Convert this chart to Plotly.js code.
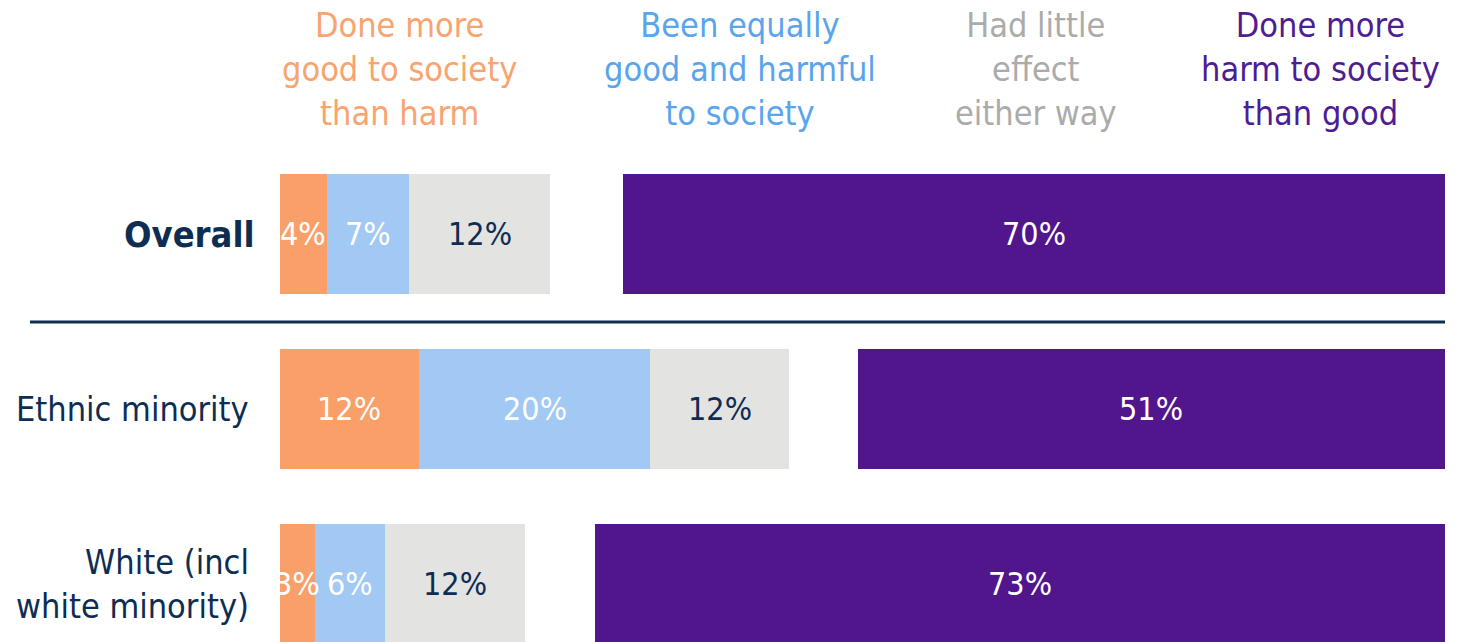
<!DOCTYPE html>
<html>
<head>
<meta charset="utf-8">
<script src="https://cdn.plot.ly/plotly-3.0.1.min.js"></script>
<style>html,body{margin:0;padding:0;background:#fff;}#chart{width:1468px;height:642px;}</style>
</head>
<body>
<div id="chart"></div>
<script>
// Categories (top to bottom)
const categories = ["Overall", "Ethnic minority", "White (incl white minority)"];
const categoryLabels = ["<b>Overall</b>", "Ethnic minority", "White (incl<br>white minority)"];

// Series headers
const seriesNames = [
  "Done more<br>good to society<br>than harm",
  "Been equally<br>good and harmful<br>to society",
  "Had little<br>effect<br>either way",
  "Done more<br>harm to society<br>than good"
];

// Values (% of respondents)
const doneMoreGood = [4.0, 11.9, 3.0];
const equallyGoodHarmful = [7.1, 19.9, 6.0];
const littleEffect = [12.1, 11.9, 12.0];
const doneMoreHarm = [70.6, 50.4, 73.0];

// Printed labels
const goodLabels = ["4%", "12%", "3%"];
const equalLabels = ["7%", "20%", "6%"];
const littleLabels = ["12%", "12%", "12%"];
const harmLabels = ["70%", "51%", "73%"];

const TOTAL = 100;

const FONT = "'Liberation Sans Narrow', 'DejaVu Sans Condensed', 'Roboto', sans-serif";
const NAVY = "#0E2D52";
const colors = ["#F9A06A", "#A2C9F3", "#E3E3E2", "#51158C"];
const headerColors = ["#F7A46F", "#5AA4EC", "#ABABAB", "#4E1C94"];

function barTrace(vals, color, name, base) {
  const t = {
    type: "bar",
    orientation: "h",
    y: categories,
    x: vals,
    name: name,
    marker: {color: color, line: {width: 0}},
    width: 0.686,
    hoverinfo: "skip"
  };
  if (base) t.base = base;
  return t;
}

const harmBase = doneMoreHarm.map(v => TOTAL - v);

const data = [
  barTrace(doneMoreGood, colors[0], "good"),
  barTrace(equallyGoodHarmful, colors[1], "equal"),
  barTrace(littleEffect, colors[2], "little"),
  barTrace(doneMoreHarm, colors[3], "harm", harmBase)
];

const annotations = [];

// value labels at segment midpoints derived from the data
categories.forEach((c, i) => {
  const g = doneMoreGood[i], e = equallyGoodHarmful[i], l = littleEffect[i], h = doneMoreHarm[i];
  const xs = [g / 2, g + e / 2, g + e + l / 2, TOTAL - h / 2];
  const ts = [goodLabels[i], equalLabels[i], littleLabels[i], harmLabels[i]];
  const cs = ["#ffffff", "#ffffff", NAVY, "#ffffff"];
  xs.forEach((x, k) => {
    annotations.push({
      xref: "x", yref: "y", x: x, y: c,
      xanchor: "center", yanchor: "middle",
      text: ts[k], showarrow: false,
      font: {family: FONT, size: 32, color: cs[k]}
    });
  });
});

const headerX = [0.103, 0.395, 0.649, 0.893];
seriesNames.forEach((s, i) => {
  annotations.push({
    xref: "paper", yref: "paper",
    x: headerX[i], y: (642 - 69) / 492,
    xanchor: "center", yanchor: "middle",
    text: s, showarrow: false, align: "center",
    font: {family: FONT, size: 34, color: headerColors[i]}
  });
});
const catLabelX = [(257 - 280) / 1165, (251 - 280) / 1165, (251 - 280) / 1165];
categoryLabels.forEach((c, i) => {
  annotations.push({
    xref: "paper", yref: "y",
    x: catLabelX[i], y: categories[i],
    xanchor: "right", yanchor: "middle",
    text: c, showarrow: false, align: "right",
    font: {family: FONT, size: i === 0 ? 36 : 34, color: NAVY}
  });
});

const layout = {
  width: 1468, height: 642,
  margin: {l: 280, r: 23, t: 150, b: 0, pad: 0},
  paper_bgcolor: "#ffffff", plot_bgcolor: "#ffffff",
  barmode: "stack",
  showlegend: false,
  xaxis: {range: [0, TOTAL], visible: false, fixedrange: true},
  yaxis: {type: "category", categoryorder: "array", categoryarray: categories,
          range: [2.331, -0.48], visible: false, fixedrange: true},
  annotations: annotations,
  shapes: [{
    type: "line", xref: "paper", yref: "y",
    x0: (30 - 280) / 1165, x1: 1, y0: 0.503, y1: 0.503,
    line: {color: NAVY, width: 3}
  }],
  font: {family: FONT}
};

Plotly.newPlot("chart", data, layout, {displayModeBar: false, staticPlot: true});
</script>
</body>
</html>
